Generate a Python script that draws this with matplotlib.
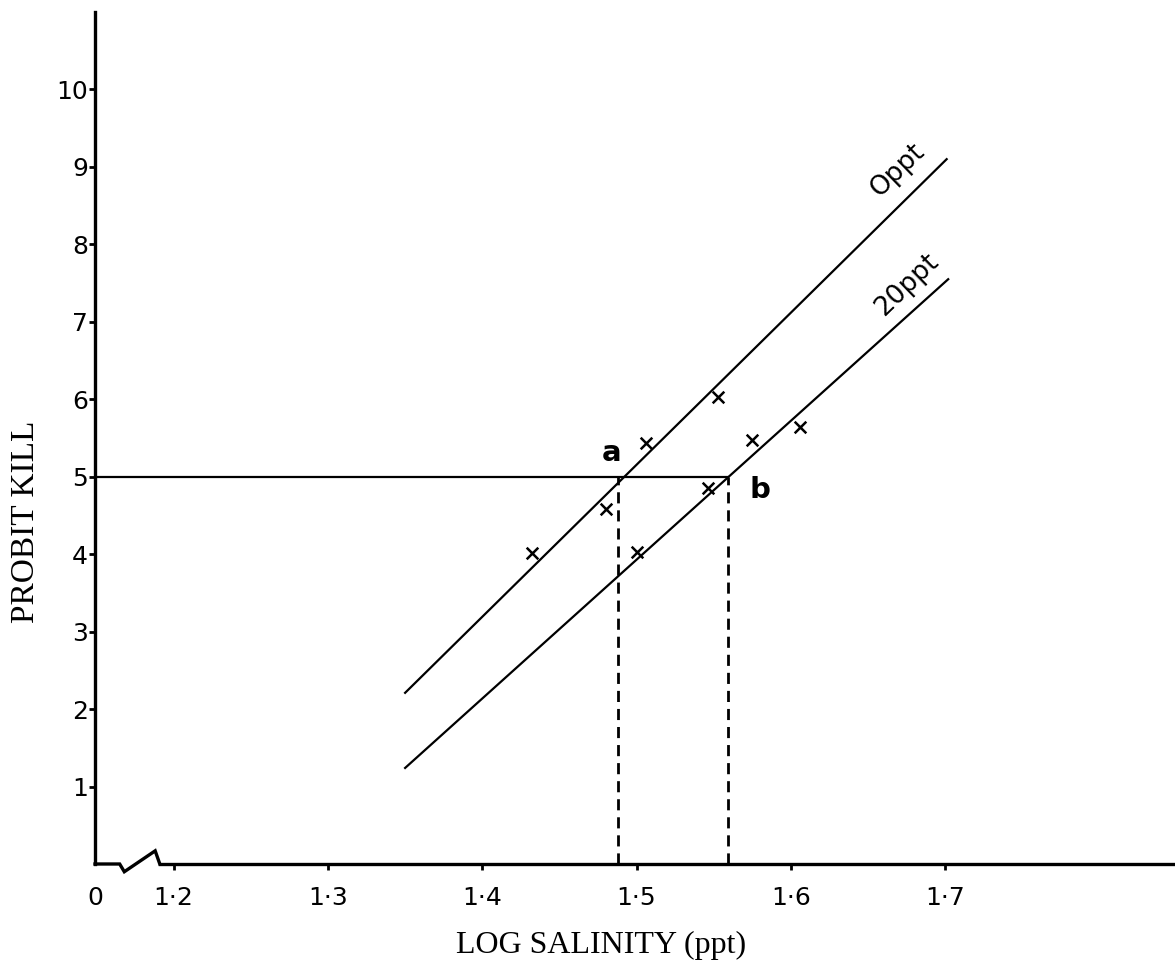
import numpy as np
import matplotlib
matplotlib.use("Agg")
import matplotlib.pyplot as plt

# --- data ---
x_ticks = [1.149, 1.2, 1.3, 1.4, 1.5, 1.6, 1.7]
x_tick_labels = ["0", "1·2", "1·3", "1·4", "1·5", "1·6", "1·7"]
y_ticks = [1, 2, 3, 4, 5, 6, 7, 8, 9, 10]

# observed points (x markers)
x_0ppt = [1.432, 1.480, 1.506, 1.553]
y_0ppt = [4.02, 4.58, 5.44, 6.03]
x_20ppt = [1.500, 1.546, 1.575, 1.606]
y_20ppt = [4.03, 4.85, 5.47, 5.64]

# fitted lines (end points)
fit_0ppt_x = [1.350, 1.701]
fit_0ppt_y = [2.21, 9.10]
fit_20ppt_x = [1.350, 1.702]
fit_20ppt_y = [1.24, 7.55]

# LC50 read-offs
probit_50 = 5.0
lc50_a = 1.488
lc50_b = 1.559

fig = plt.figure(figsize=(11.75, 9.67), dpi=100)
ax = fig.add_axes([95 / 1175, (967 - 864) / 967, 1080 / 1175, 852 / 967])
ax.set_xlim(1.149, 1.849)
ax.set_ylim(0, 11)

ax.plot(fit_0ppt_x, fit_0ppt_y, color="black", lw=1.6)
ax.plot(fit_20ppt_x, fit_20ppt_y, color="black", lw=1.6)
ax.scatter(x_0ppt, y_0ppt, marker="x", color="black", s=70, linewidths=1.8, zorder=3)
ax.scatter(x_20ppt, y_20ppt, marker="x", color="black", s=70, linewidths=1.8, zorder=3)

# probit 5 line and dashed drops
ax.plot([1.149, lc50_b], [probit_50, probit_50], color="black", lw=1.6)
ax.plot([lc50_a, lc50_a], [0, probit_50], color="black", lw=2, ls=(0, (4, 2.5)))
ax.plot([lc50_b, lc50_b], [0, probit_50], color="black", lw=2, ls=(0, (4, 2.5)))

ax.text(1.484, 5.31, "a", fontsize=21, fontweight="bold", ha="center", va="center")
ax.text(1.580, 4.83, "b", fontsize=21, fontweight="bold", ha="center", va="center")
ax.text(1.669, 8.96, "Oppt", fontsize=19, rotation=44, ha="center", va="center",
        rotation_mode="anchor")
ax.text(1.675, 7.48, "20ppt", fontsize=19, rotation=44, ha="center", va="center",
        rotation_mode="anchor")

# spines
for s in ["top", "right"]:
    ax.spines[s].set_visible(False)
ax.spines["left"].set_linewidth(2.4)
ax.spines["bottom"].set_linewidth(2.4)
ax.spines["bottom"].set_bounds(1.191, 1.849)

# axis break squiggle
ax.plot([1.149, 1.165, 1.168, 1.188, 1.191], [0, 0, -0.10, 0.17, 0],
        color="black", lw=2.4, clip_on=False, solid_joinstyle="miter")

ax.set_xticks(x_ticks)
ax.set_xticklabels(x_tick_labels)
ax.set_yticks(y_ticks)
ax.tick_params(axis="x", direction="out", length=4, width=2, labelsize=18, pad=12)
ax.tick_params(axis="y", direction="out", length=4, width=2, labelsize=18, pad=1)
ax.xaxis.get_major_ticks()[0].tick1line.set_visible(False)

fig.text(601 / 1175, 1 - 945 / 967, "LOG SALINITY (ppt)", fontsize=23,
         family="Liberation Serif", ha="center", va="center")
fig.text(26 / 1175, 1 - 522 / 967, "PROBIT KILL", fontsize=24, rotation=90,
         family="Liberation Serif", ha="center", va="center")

fig.savefig("out.png", dpi=100)
